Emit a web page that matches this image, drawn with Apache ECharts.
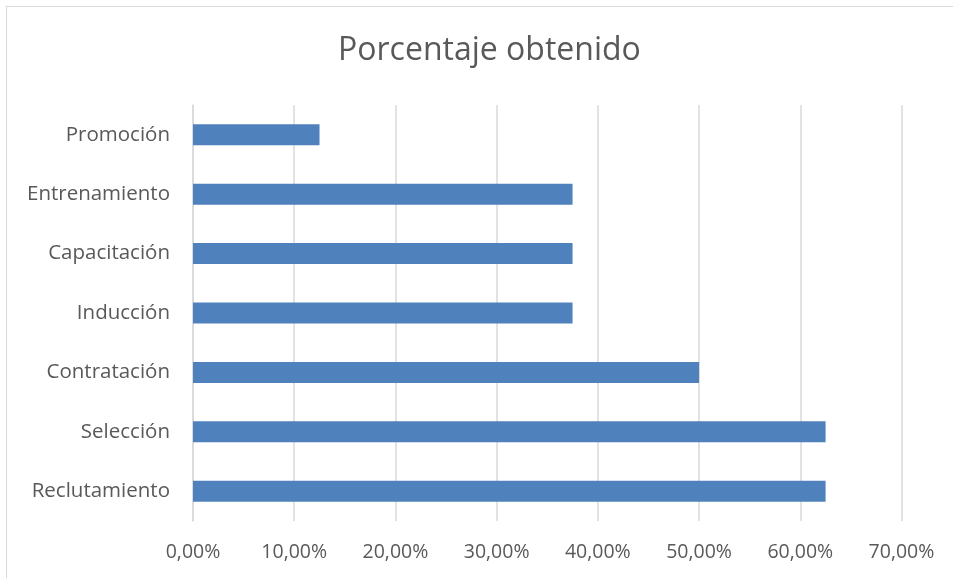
<!DOCTYPE html>
<html>
<head>
<meta charset="utf-8">
<script src="https://cdn.jsdelivr.net/npm/echarts@6/dist/echarts.min.js"></script>
<style>
html,body{margin:0;padding:0;background:#fff;}
#frame{position:absolute;left:6px;top:6px;width:960px;height:580px;border:1px solid #d9d9d9;box-sizing:border-box;}
#chart{position:absolute;left:0;top:0;width:953px;height:578px;}
</style>
</head>
<body>
<div id="frame"></div>
<div id="chart"></div>
<script>
const categories = ["Reclutamiento","Selección","Contratación","Inducción","Capacitación","Entrenamiento","Promoción"];
const values = [62.5, 62.5, 50, 37.5, 37.5, 37.5, 12.5];
const xTicks = {min: 0, max: 70, interval: 10};
const title = "Porcentaje obtenido";

const chart = echarts.init(document.getElementById('chart'), null, {renderer:'canvas'});
const font = "'Open Sans', 'Noto Sans', sans-serif";
chart.setOption({
  animation: false,
  title: {text: title, left: 333, top: 30,
    textStyle: {fontFamily: font, fontSize: 32, fontWeight: 'normal', color: '#595959'}},
  grid: {left: 193, right: 51.5, top: 105, bottom: 57, containLabel: false},
  xAxis: {type: 'value', min: xTicks.min, max: xTicks.max, interval: xTicks.interval,
    axisLine: {show: false}, axisTick: {show: false},
    splitLine: {lineStyle: {color: '#d9d9d9', width: 1.5}},
    axisLabel: {margin: 21, color: '#595959', fontFamily: font, fontSize: 19.5,
      formatter: v => v.toFixed(2).replace('.', ',') + '%'}},
  yAxis: {type: 'category', data: categories,
    axisLine: {show: true, lineStyle: {color: '#d9d9d9', width: 1.5}}, axisTick: {show: false},
    axisLabel: {margin: 23, color: '#595959', fontFamily: font, fontSize: 20.5}},
  series: [{type: 'bar', data: values, barWidth: 21,
    itemStyle: {color: '#4F81BD'}}]
});
</script>
</body>
</html>
